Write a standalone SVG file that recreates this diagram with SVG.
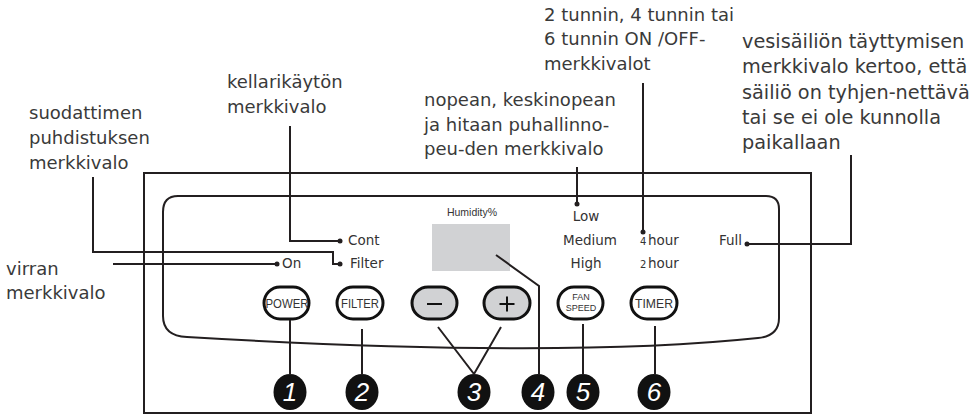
<svg xmlns="http://www.w3.org/2000/svg" width="973" height="415" viewBox="0 0 973 415">
<style>
.lbl{font-family:"DejaVu Sans",sans-serif;font-size:18px;fill:#3a3a3a}
.lbw{font-size:19.3px}
.sm{font-family:"DejaVu Sans",sans-serif;font-size:13.5px;fill:#333}
.tiny{font-family:"DejaVu Sans",sans-serif;font-size:10px;fill:#333}
.btn{fill:#fff;stroke:#111;stroke-width:3}
.btng{fill:#d1d2d4;stroke:#111;stroke-width:3}
.bt{font-family:"Liberation Sans",Arial,sans-serif;font-size:13.5px;fill:#333;text-anchor:middle}
.bs{font-family:"Liberation Sans",Arial,sans-serif;font-size:9px;fill:#333;text-anchor:middle}
.ln{fill:none;stroke:#231f20;stroke-width:2}
.dot{fill:#231f20}
.num{fill:#111}
.nt{font-family:"Liberation Sans",sans-serif;font-style:italic;font-size:26px;fill:#fff;text-anchor:middle}
</style>
<rect width="973" height="415" fill="#fff"/>

<g id="device">
  <rect x="144" y="173" width="667" height="240" class="ln"/>
  <path class="ln" d="M178,196 H766 Q779,196 779,209 V318 Q779,336 758,338 Q560,359 187,337 Q163,336 163,316 V212 Q163,196 178,196 Z"/>
</g>

<g id="display">
  <text x="472" y="216" font-family="Liberation Sans, Arial, sans-serif" font-size="10.5" fill="#333" text-anchor="middle">Humidity%</text>
  <rect x="432" y="224" width="78" height="47" fill="#d1d2d4"/>
</g>

<g id="indicators">
  <text class="sm" x="348" y="245">Cont</text>
  <text class="sm" x="350" y="268">Filter</text>
  <text class="sm" x="282" y="268">On</text>
  <text class="sm" x="586" y="221" text-anchor="middle">Low</text>
  <text class="sm" x="590" y="245" text-anchor="middle">Medium</text>
  <text class="sm" x="586" y="268" text-anchor="middle">High</text>
  <text x="640" y="245"><tspan class="tiny">4</tspan><tspan class="sm" x="648">hour</tspan></text>
  <text x="640" y="268"><tspan class="tiny">2</tspan><tspan class="sm" x="648">hour</tspan></text>
  <text class="sm" x="719" y="245">Full</text>
</g>

<g id="btn-power">
  <rect class="btn" x="264" y="287" width="45" height="32" rx="16"/>
  <text class="bt" x="287" y="308" textLength="43" lengthAdjust="spacingAndGlyphs">POWER</text>
</g>
<g id="btn-filter">
  <rect class="btn" x="337" y="287" width="46" height="32" rx="16"/>
  <text class="bt" x="360" y="308" textLength="38" lengthAdjust="spacingAndGlyphs">FILTER</text>
</g>
<g id="btn-minus">
  <rect class="btng" x="412" y="287" width="45" height="32" rx="16"/>
  <line x1="427" y1="304" x2="442" y2="304" stroke="#111" stroke-width="2"/>
</g>
<g id="btn-plus">
  <rect class="btng" x="484" y="287" width="46" height="32" rx="16"/>
  <line x1="499.5" y1="304" x2="514.5" y2="304" stroke="#111" stroke-width="2"/>
  <line x1="507" y1="296.5" x2="507" y2="311.5" stroke="#111" stroke-width="2"/>
</g>
<g id="btn-fanspeed">
  <rect class="btn" x="558" y="287" width="45" height="32" rx="16"/>
  <text class="bs" x="581" y="300">FAN</text>
  <text class="bs" x="581" y="311">SPEED</text>
</g>
<g id="btn-timer">
  <rect class="btn" x="631" y="287" width="46" height="32" rx="16"/>
  <text class="bt" x="654" y="308" textLength="38" lengthAdjust="spacingAndGlyphs">TIMER</text>
</g>

<g id="num-1"><ellipse class="num" cx="290" cy="392" rx="16.5" ry="18"/><text class="nt" x="290" y="401">1</text></g>
<g id="num-2"><ellipse class="num" cx="362" cy="392" rx="16.5" ry="18"/><text class="nt" x="362" y="401">2</text></g>
<g id="num-3"><ellipse class="num" cx="474" cy="392" rx="16.5" ry="18"/><text class="nt" x="474" y="401">3</text></g>
<g id="num-4"><ellipse class="num" cx="538" cy="392" rx="16.5" ry="18"/><text class="nt" x="538" y="401">4</text></g>
<g id="num-5"><ellipse class="num" cx="583" cy="392" rx="16.5" ry="18"/><text class="nt" x="583" y="401">5</text></g>
<g id="num-6"><ellipse class="num" cx="654" cy="392" rx="16.5" ry="18"/><text class="nt" x="654" y="401">6</text></g>

<g id="label-filter">
  <text class="lbl" x="29" y="119">suodattimen</text>
  <text class="lbl" x="29" y="144">puhdistuksen</text>
  <text class="lbl" x="29" y="169">merkkivalo</text>
</g>
<g id="label-cont">
  <text class="lbl" x="227" y="88">kellarikäytön</text>
  <text class="lbl" x="227" y="113">merkkivalo</text>
</g>
<g id="label-on">
  <text class="lbl" x="6" y="275">virran</text>
  <text class="lbl" x="6" y="299">merkkivalo</text>
</g>
<g id="label-fan">
  <text class="lbl" x="424" y="106">nopean, keskinopean</text>
  <text class="lbl" x="424" y="130.5">ja hitaan puhallinno-</text>
  <text class="lbl" x="424" y="155">peu-den merkkivalo</text>
</g>
<g id="label-timer">
  <text class="lbl" x="544" y="21">2 tunnin, 4 tunnin tai</text>
  <text class="lbl" x="544" y="45">6 tunnin ON /OFF-</text>
  <text class="lbl" x="544" y="70">merkkivalot</text>
</g>
<g id="label-full">
  <text class="lbl lbw" x="742" y="48">vesisäiliön täyttymisen</text>
  <text class="lbl lbw" x="742" y="73">merkkivalo kertoo, että</text>
  <text class="lbl lbw" x="742" y="99">säiliö on tyhjen-nettävä</text>
  <text class="lbl lbw" x="742" y="124">tai se ei ole kunnolla</text>
  <text class="lbl lbw" x="742" y="149">paikallaan</text>
</g>

<g id="connectors">
  <polyline class="ln" points="290,126 290,241 339,241"/>
  <circle class="dot" cx="340" cy="241" r="2.5"/>
  <polyline class="ln" points="93,177 93,252 333,252 333,264 339,264"/>
  <circle class="dot" cx="340" cy="264" r="2.5"/>
  <polyline class="ln" points="113,264 276,264"/>
  <circle class="dot" cx="277" cy="264" r="2.5"/>
  <polyline class="ln" points="577,167 577,203"/>
  <circle class="dot" cx="577" cy="204" r="2.5"/>
  <polyline class="ln" points="643,83 643,231"/>
  <circle class="dot" cx="643" cy="232" r="2.5"/>
  <polyline class="ln" points="748,244 851,244 851,155"/>
  <circle class="dot" cx="747" cy="244" r="2.5"/>
  <line class="ln" x1="290" y1="320" x2="290" y2="375"/>
  <line class="ln" x1="362" y1="329" x2="362" y2="375"/>
  <polyline class="ln" points="438,327 474,374 501,327"/>
  <polyline class="ln" points="496,255 539,286 539,375"/>
  <line class="ln" x1="583" y1="324" x2="583" y2="375"/>
  <line class="ln" x1="655" y1="326" x2="655" y2="375"/>
</g>
</svg>
